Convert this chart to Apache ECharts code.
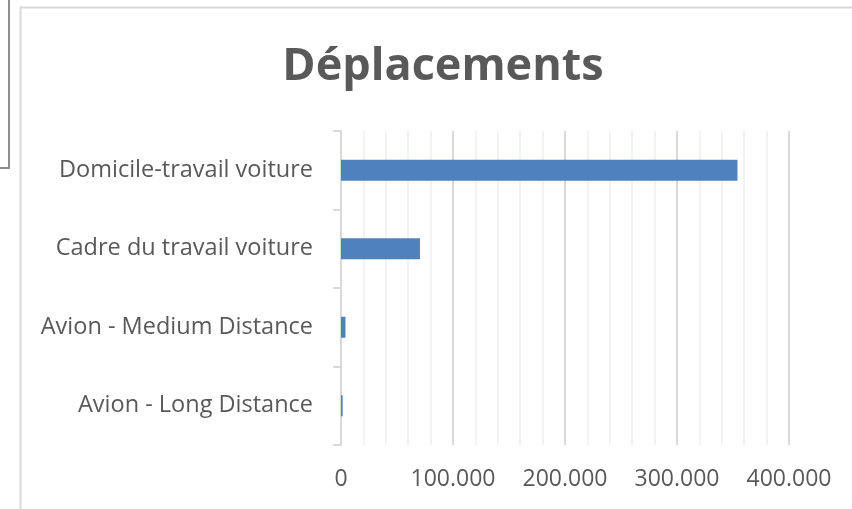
<!DOCTYPE html>
<html>
<head>
<meta charset="utf-8">
<script src="https://cdn.jsdelivr.net/npm/echarts@6/dist/echarts.min.js"></script>
<style>
  html, body { margin: 0; padding: 0; background: #fff; }
  #chart { width: 852px; height: 509px; }
</style>
</head>
<body>
<div id="chart"></div>
<script>
// categories listed top to bottom
const categories = [
  "Domicile-travail voiture",
  "Cadre du travail voiture",
  "Avion - Medium Distance",
  "Avion - Long Distance"
];
const values = [354000, 70500, 4000, 1500];
const xTicks = [0, 100000, 200000, 300000, 400000];

const grey = "#595959";
const font = "Open Sans";

function fmt(v) {
  // French style thousands separator
  return String(v).replace(/\B(?=(\d{3})+(?!\d))/g, ".");
}

const myChart = echarts.init(document.getElementById("chart"));
const option = {
  animation: false,
  backgroundColor: "#fff",
  title: {
    text: "Déplacements",
    left: 438,
    textAlign: "center",
    top: 40,
    textStyle: { fontFamily: font, fontWeight: "bold", fontSize: 45, color: grey }
  },
  graphic: [
    // outer chart frame
    { type: "rect", shape: { x: 20.5, y: 7.5, width: 900, height: 600 },
      style: { fill: "none", stroke: "#d9d9d9", lineWidth: 2 }, silent: true },
    // piece of neighbouring box at top left
    { type: "rect", shape: { x: -10, y: -10, width: 19, height: 178 },
      style: { fill: "none", stroke: "#8c8c8c", lineWidth: 2 }, silent: true }
  ],
  grid: { left: 341, right: 63, top: 131, bottom: 64, containLabel: false },
  xAxis: {
    type: "value",
    min: xTicks[0],
    max: xTicks[xTicks.length - 1],
    interval: 100000,
    axisLine: { show: false },
    axisTick: { show: false },
    axisLabel: {
      margin: 23,
      fontFamily: font, fontSize: 23, color: grey,
      formatter: fmt
    },
    splitLine: { show: true, lineStyle: { color: "#d9d9d9", width: 2 } },
    minorTick: { show: false, splitNumber: 5 },
    minorSplitLine: { show: true, lineStyle: { color: "#f2f2f2", width: 2 } }
  },
  yAxis: {
    type: "category",
    data: categories,
    inverse: true,
    axisLine: { show: true, lineStyle: { color: "#d9d9d9", width: 2 } },
    axisTick: { show: true, length: 8, alignWithLabel: false, lineStyle: { color: "#d9d9d9", width: 2 } },
    axisLabel: { margin: 28, fontFamily: font, fontSize: 23.5, color: grey },
    splitLine: { show: false }
  },
  series: [{
    type: "bar",
    data: values,
    barWidth: 21,
    itemStyle: { color: "#4f81bd" }
  }]
};
myChart.setOption(option);
</script>
</body>
</html>
